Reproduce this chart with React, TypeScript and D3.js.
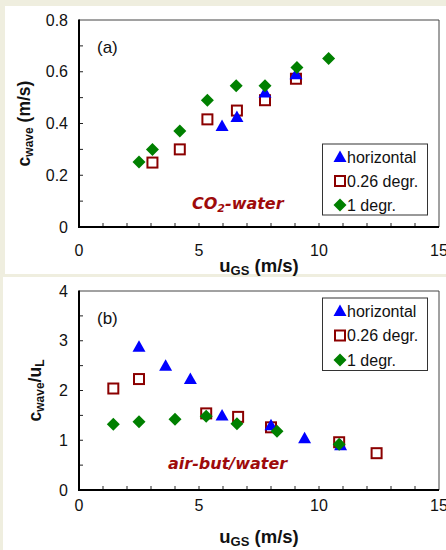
import React from 'react';
import * as d3 from 'd3';

// panel (a): CO2-water, c_wave in m/s
const aHorizX = [5.96, 6.58, 7.75, 9.04];
const aHorizY = [0.39, 0.425, 0.52, 0.59];
const aDeg026X = [3.06, 4.2, 5.35, 6.58, 7.75, 9.04];
const aDeg026Y = [0.249, 0.3, 0.416, 0.45, 0.49, 0.573];
const aDeg1X = [2.5, 3.06, 4.2, 5.35, 6.55, 7.75, 9.08, 10.4];
const aDeg1Y = [0.251, 0.3, 0.371, 0.49, 0.546, 0.546, 0.616, 0.651];

// panel (b): air-butanol/water, c_wave / u_L
const bHorizX = [2.5, 3.61, 4.64, 5.96, 8.0, 9.4, 10.9];
const bHorizY = [2.88, 2.5, 2.23, 1.5, 1.3, 1.04, 0.9];
const bDeg026X = [1.43, 2.5, 5.3, 6.63, 8.0, 10.84, 12.4];
const bDeg026Y = [2.04, 2.23, 1.54, 1.47, 1.26, 0.96, 0.74];
const bDeg1X = [1.43, 2.5, 4.0, 5.3, 6.58, 8.25, 10.84];
const bDeg1Y = [1.32, 1.37, 1.42, 1.48, 1.33, 1.18, 0.92];

const seriesNames = ['horizontal', '0.26 degr.', '1 degr.'];
const xTicks = [0, 5, 10, 15];
const aYTicks = [0, 0.2, 0.4, 0.6, 0.8];
const bYTicks = [0, 1, 2, 3, 4];

const BLUE = '#0000ff';
const RED = '#8b0000';
const GREEN = '#008000';
const TEXTRED = '#9e0b0b';
const FONT = '"Liberation Sans", Arial, sans-serif';

const Marker = ({ kind, x, y }: { kind: number; x: number; y: number }) => {
  if (kind === 0) {
    return <path d={`M${x},${y - 6.5}L${x + 6.5},${y + 5}L${x - 6.5},${y + 5}Z`} fill={BLUE} />;
  }
  if (kind === 1) {
    return <rect x={x - 5} y={y - 5} width={10} height={10} fill="white" stroke={RED} strokeWidth={2} />;
  }
  return <path d={`M${x},${y - 6.5}L${x + 6.5},${y}L${x},${y + 6.5}L${x - 6.5},${y}Z`} fill={GREEN} />;
};

type PanelProps = {
  top: number;
  bottom: number;
  yMax: number;
  yTicks: number[];
  yMinor: number;
  yFmt: (v: number) => string;
  series: [number[], number[]][];
  tag: string;
  legendTop: number;
  legendRowGap: number;
  xLabelY: number;
  yTitleX: number;
  yTitle: React.ReactNode;
  xTitleY: number;
  fluid: React.ReactNode;
};

const Panel = (p: PanelProps) => {
  const left = 79;
  const right = 439;
  const x = d3.scaleLinear().domain([0, 15]).range([left, right]);
  const y = d3.scaleLinear().domain([0, p.yMax]).range([p.bottom, p.top]);
  const xMinor = d3.range(1, 15, 1);
  const yMinor = d3.range(1, Math.round(p.yMax / p.yMinor)).map((i) => i * p.yMinor);
  const order = [1, 0, 2];
  return (
    <g>
      <line x1={left} x2={right} y1={p.top} y2={p.top} stroke="#444" strokeWidth={1} />
      <line x1={right} x2={right} y1={p.top} y2={p.bottom} stroke="#444" strokeWidth={1} />
      {xMinor.map((t) => (
        <line key={'xt' + t} x1={x(t)} x2={x(t)} y1={p.bottom} y2={p.bottom - 4} stroke="#222" strokeWidth={1} />
      ))}
      {yMinor.map((t) => (
        <line key={'yt' + t} x1={left} x2={left + 4} y1={y(t)} y2={y(t)} stroke="#222" strokeWidth={1} />
      ))}
      <line x1={left} x2={left} y1={p.top - 0.5} y2={p.bottom + 1} stroke="black" strokeWidth={2} />
      <line x1={left - 1} x2={right} y1={p.bottom} y2={p.bottom} stroke="black" strokeWidth={2} />
      {p.yTicks.map((t) => (
        <text key={'yl' + t} x={68} y={y(t)} dy="0.35em" textAnchor="end" fontSize={16} fontFamily={FONT} fill="#111">
          {p.yFmt(t)}
        </text>
      ))}
      {xTicks.map((t) => (
        <text key={'xl' + t} x={x(t)} y={p.xLabelY} textAnchor="middle" fontSize={16} fontFamily={FONT} fill="#111">
          {t}
        </text>
      ))}
      <text x={97} y={p.top + 33} fontSize={17} fontFamily={FONT} fill="#111">{p.tag}</text>
      {p.fluid}
      {order.map((k) =>
        p.series[k][0].map((vx, i) => <Marker key={k + '-' + i} kind={k} x={x(vx)} y={y(p.series[k][1][i])} />)
      )}
      <rect x={322.5} y={p.legendTop} width={105} height={p.legendRowGap * 3 - 1} fill="white" stroke="#333" strokeWidth={1} />
      {seriesNames.map((n, k) => {
        const cy = p.legendTop + 13 + k * p.legendRowGap;
        return (
          <g key={n}>
            <Marker kind={k} x={340} y={cy} />
            <text x={347} y={cy} dy="0.36em" fontSize={16} fontFamily={FONT} fill="#111">{n}</text>
          </g>
        );
      })}
      <text x={(left + right) / 2} y={p.xTitleY} textAnchor="middle" fontSize={18.5} fontWeight="bold" fontFamily={FONT} fill="#111">
        u<tspan fontSize={13} dy={3}>GS</tspan><tspan dy={-3}> (m/s)</tspan>
      </text>
      <text
        transform={`translate(${p.yTitleX},${(p.top + p.bottom) / 2}) rotate(-90)`}
        textAnchor="middle"
        fontSize={17.5}
        fontWeight="bold"
        fontFamily={FONT}
        fill="#111"
      >
        {p.yTitle}
      </text>
    </g>
  );
};

export default function App() {
  return (
    <svg width={446} height={550} style={{ position: 'absolute', left: 0, top: 0 }}>
      <rect x={0} y={0} width={446} height={550} fill="#efeedf" />
      <rect x={5} y={6} width={441} height={268} fill="white" />
      <rect x={3} y={277} width={443} height={273} fill="white" />
      <Panel
        top={20}
        bottom={227}
        yMax={0.8}
        yTicks={aYTicks}
        yMinor={0.1}
        yFmt={(v) => (v === 0 ? '0' : d3.format('.1f')(v))}
        series={[
          [aHorizX, aHorizY],
          [aDeg026X, aDeg026Y],
          [aDeg1X, aDeg1Y],
        ]}
        tag="(a)"
        legendTop={144}
        legendRowGap={24}
        xLabelY={256}
        xTitleY={272}
        yTitleX={30}
        yTitle={
          <>
            c<tspan fontSize={12} dy={3}>wave</tspan><tspan dy={-3}> (m/s)</tspan>
          </>
        }
        fluid={
          <text x={192} y={209} fontSize={16} fontWeight="bold" fontStyle="italic" fontFamily='"DejaVu Sans", sans-serif' fill={TEXTRED}>
            CO<tspan fontSize={11} dy={3}>2</tspan><tspan dy={-3}>-water</tspan>
          </text>
        }
      />
      <Panel
        top={291}
        bottom={490}
        yMax={4}
        yTicks={bYTicks}
        yMinor={0.5}
        yFmt={(v) => String(v)}
        series={[
          [bHorizX, bHorizY],
          [bDeg026X, bDeg026Y],
          [bDeg1X, bDeg1Y],
        ]}
        tag="(b)"
        legendTop={298}
        legendRowGap={24.5}
        xLabelY={511}
        xTitleY={543}
        yTitleX={41}
        yTitle={
          <>
            c<tspan fontSize={12} dy={3}>wave</tspan><tspan dy={-3}>/u</tspan><tspan fontSize={12} dy={3}>L</tspan>
          </>
        }
        fluid={
          <text x={168} y={469} fontSize={16} fontWeight="bold" fontStyle="italic" fontFamily='"DejaVu Sans", sans-serif' fill={TEXTRED}>
            air-but/water
          </text>
        }
      />
    </svg>
  );
}
